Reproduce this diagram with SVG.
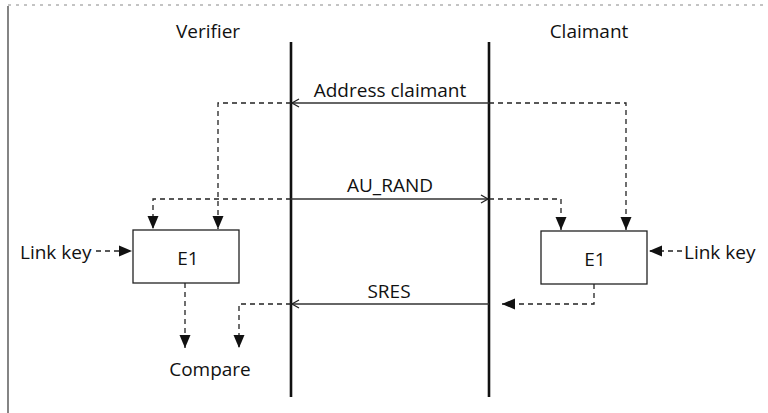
<svg xmlns="http://www.w3.org/2000/svg" width="768" height="413" viewBox="0 0 768 413">
<defs>
<style>
text{font-family:"Open Sans","Noto Sans",sans-serif;font-size:19px;fill:#111;}
.life{stroke:#111;stroke-width:2.6;fill:none;}
.msg{stroke:#333;stroke-width:1.3;fill:none;}
.dash{stroke:#222;stroke-width:1.3;fill:none;stroke-dasharray:5 4;}
.box{fill:#fff;stroke:#222;stroke-width:1.3;}
.frame{stroke:#333;stroke-width:1.2;fill:none;}
</style>
<marker id="open" markerWidth="10" markerHeight="10" refX="8" refY="5" orient="auto" markerUnits="userSpaceOnUse">
<path d="M1,1 L8,5 L1,9" fill="none" stroke="#222" stroke-width="1.3"/>
</marker>
<marker id="solid" markerWidth="14" markerHeight="14" refX="13" refY="7" orient="auto" markerUnits="userSpaceOnUse">
<path d="M0,1.5 L13,7 L0,12.5 Z" fill="#111"/>
</marker>
</defs>
<g id="frame">
<line class="frame" x1="8" y1="6" x2="8" y2="413"/>
<line x1="8" y1="5" x2="768" y2="5" stroke="#888" stroke-width="1" stroke-dasharray="3 5"/>
</g>
<g id="verifier-label"><text x="208" y="38" text-anchor="middle">Verifier</text></g>
<g id="claimant-label"><text x="589" y="38" text-anchor="middle">Claimant</text></g>
<g id="verifier-lifeline"><line class="life" x1="291" y1="42" x2="291" y2="397"/></g>
<g id="claimant-lifeline"><line class="life" x1="489" y1="42" x2="489" y2="397"/></g>
<g id="verifier-e1"><rect class="box" x="133" y="230" width="106" height="53"/><text x="188" y="265" text-anchor="middle">E1</text></g>
<g id="claimant-e1"><rect class="box" x="541" y="231" width="106" height="53"/><text x="595" y="266" text-anchor="middle">E1</text></g>
<g id="link-key-left"><text x="20" y="259">Link key</text></g>
<g id="link-key-right"><text x="684" y="259">Link key</text></g>
<g id="compare"><text x="210" y="376" text-anchor="middle">Compare</text></g>
<g id="connectors">
<line class="msg" x1="489" y1="103" x2="292" y2="103" marker-end="url(#open)"/>
<text x="390" y="97" text-anchor="middle">Address claimant</text>
<line class="msg" x1="291" y1="199" x2="488" y2="199" marker-end="url(#open)"/>
<text x="390" y="192" text-anchor="middle">AU_RAND</text>
<line class="msg" x1="489" y1="304" x2="292" y2="304" marker-end="url(#open)"/>
<text x="389" y="298" text-anchor="middle">SRES</text>
<path class="dash" d="M291,103 H218 V229" marker-end="url(#solid)"/>
<path class="dash" d="M489,103 H626 V230" marker-end="url(#solid)"/>
<path class="dash" d="M291,199 H153 V229" marker-end="url(#solid)"/>
<path class="dash" d="M489,199 H561 V230" marker-end="url(#solid)"/>
<path class="dash" d="M96,251 H132" marker-end="url(#solid)"/>
<path class="dash" d="M682,251 H649" marker-end="url(#solid)"/>
<path class="dash" d="M185,283 V348" marker-end="url(#solid)"/>
<path class="dash" d="M291,304 H239 V348" marker-end="url(#solid)"/>
<path class="dash" d="M594,284 V304 H502" marker-end="url(#solid)"/>
</g>
</svg>
